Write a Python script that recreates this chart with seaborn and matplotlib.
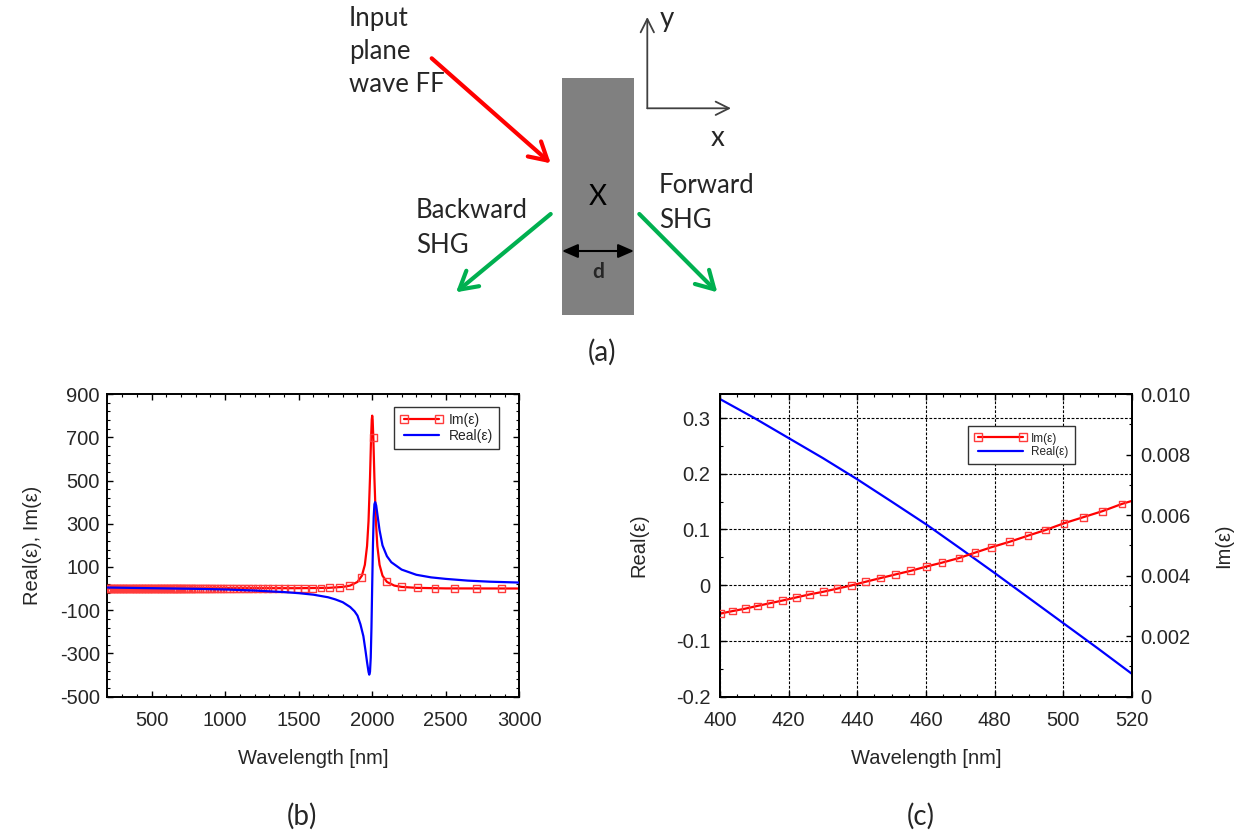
import matplotlib
matplotlib.use("Agg")
import matplotlib.pyplot as plt
import seaborn as sns
from matplotlib.lines import Line2D
from matplotlib.patches import Rectangle
from matplotlib.ticker import MultipleLocator, FixedLocator, FixedFormatter, AutoMinorLocator

# ---------------- data: panel (b) ----------------
b_im_wl = [200, 500, 1000, 1500, 1700, 1800, 1850, 1900, 1930, 1950, 1965, 1975, 1985, 1992, 1997,
           2000, 2003, 2008, 2015, 2025, 2035, 2050, 2070, 2100, 2150, 2200, 2300, 2500, 3000]
b_im_val = [1, 1, 2, 2, 3.5, 7.9, 14, 31, 60, 110, 197, 312, 512, 690, 782,
            800, 782, 690, 512, 312, 197, 110, 60, 31, 14, 8, 3.5, 1, 0.5]

b_mk_wl = [2878, 2710, 2561, 2427, 2307, 2198, 2099, 2007, 1925, 1848,
           1778, 1712, 1652, 1595, 1542, 1493, 1446, 1403, 1361, 1323,
           1286, 1252, 1219, 1188, 1158, 1130, 1103, 1078, 1053, 1030,
           1008, 986, 966, 946, 927, 909, 892, 875, 859, 844,
           829, 815, 801, 788, 775, 763, 751, 739, 728, 717,
           707, 697, 687, 678, 668, 659, 650, 640, 630, 620,
           610, 600, 590, 580, 570, 560, 550, 540, 530, 520,
           510, 500, 490, 480, 470, 460, 450, 440, 430, 420,
           410, 400, 390, 380, 370, 360, 350, 340, 330, 320,
           310, 300, 290, 280, 270, 260, 250, 240, 230, 220,
           210, 200]
b_mk_val = [0.4, 0.6, 1.0, 1.7, 3.4, 8, 32, 700, 53, 14,
            6.3, 3.8, 2.6, 1.9, 1.4, 1.1, 0.9, 0.7, 0.6, 0.5,
            0.5, 0.5, 0.5, 0.5, 0.5, 0.5, 0.5, 0.5, 0.5, 0.5,
            0.5, 0.5, 0.5, 0.5, 0.5, 0.5, 0.5, 0.5, 0.5, 0.5,
            0.5, 0.5, 0.5, 0.5, 0.5, 0.5, 0.5, 0.5, 0.5, 0.5,
            0.5, 0.5, 0.5, 0.5, 0.5, 0.5, 0.5, 0.5, 0.5, 0.5,
            0.5, 0.5, 0.5, 0.5, 0.5, 0.5, 0.5, 0.5, 0.5, 0.5,
            0.5, 0.5, 0.5, 0.5, 0.5, 0.5, 0.5, 0.5, 0.5, 0.5,
            0.5, 0.5, 0.5, 0.5, 0.5, 0.5, 0.5, 0.5, 0.5, 0.5,
            0.5, 0.5, 0.5, 0.5, 0.5, 0.5, 0.5, 0.5, 0.5, 0.5,
            0.5, 0.5]

b_re_wl = [200, 400, 600, 800, 1000, 1200, 1400, 1500, 1600, 1700, 1750, 1800, 1850, 1880, 1900,
           1920, 1940, 1955, 1965, 1975, 1980, 1985, 1990, 1995, 2000, 2005, 2010, 2015, 2020,
           2027, 2035, 2050, 2070, 2100, 2130, 2200, 2300, 2400, 2500, 2650, 2800, 3000]
b_re_val = [5, 3, 1, -1, -4, -9, -16, -21, -28, -40, -50, -63, -85, -105, -125,
            -165, -220, -290, -340, -385, -398, -385, -320, -180, 15, 200, 330, 390, 400,
            385, 345, 270, 200, 150, 122, 88, 64, 52, 45, 37, 32, 28]

b_xticks = [500, 1000, 1500, 2000, 2500, 3000]
b_yticks = [-500, -300, -100, 100, 300, 500, 700, 900]

# ---------------- data: panel (c) ----------------
c_re_wl = [400, 410, 420, 430, 440, 450, 460, 470, 480, 490, 500, 510, 520]
c_re_val = [0.334, 0.300, 0.264, 0.228, 0.190, 0.150, 0.1095, 0.066, 0.022, -0.023, -0.068, -0.113, -0.159]

c_im_wl = [400.2, 403.7, 407.4, 410.9, 414.6, 418.3, 422.2, 426.1, 430.2, 434.1,
           438.4, 442.5, 446.8, 451.1, 455.6, 460.1, 464.7, 469.6, 474.3, 479.1,
           484.4, 489.7, 494.9, 500.2, 505.8, 511.4, 517.1]
c_im_val = [0.00275, 0.00283, 0.00291, 0.00300, 0.00309, 0.00318, 0.00328, 0.00338, 0.00347, 0.00357,
            0.00368, 0.00380, 0.00392, 0.00404, 0.00416, 0.00430, 0.00443, 0.00458, 0.00476, 0.00494,
            0.00512, 0.00532, 0.00551, 0.00573, 0.00593, 0.00613, 0.00637]
c_im_line_wl = [400] + c_im_wl + [520]
c_im_line_val = [0.00273] + c_im_val + [0.00647]

c_xticks = [400, 420, 440, 460, 480, 500, 520]
c_yticks_left = [-0.2, -0.1, 0, 0.1, 0.2, 0.3]
c_ylabels_left = ["-0.2", "-0.1", "0", "0.1", "0.2", "0.3"]
c_yticks_right = [0, 0.002, 0.004, 0.006, 0.008, 0.010]
c_ylabels_right = ["0", "0.002", "0.004", "0.006", "0.008", "0.010"]

# ---------------- style ----------------
sns.set_theme(style="ticks")
plt.rcParams['font.family'] = ['Liberation Sans', 'DejaVu Sans']
plt.rcParams['axes.linewidth'] = 1.4
plt.rcParams['axes.edgecolor'] = 'black'
plt.rcParams['axes.unicode_minus'] = False

RED = '#ff0000'
BLUE = '#0000ff'
GREEN = '#00b050'
DIAG_FONT = ['Lato', 'DejaVu Sans']
DFS = 18.5

fig = plt.figure(figsize=(12.48, 8.32), dpi=100)
fig.patch.set_facecolor('white')

# ---------------- panel (a): diagram in pixel coordinates ----------------
dax = fig.add_axes([0, 0, 1, 1], zorder=0)
dax.set_xlim(0, 1248)
dax.set_ylim(832, 0)
dax.axis('off')

dax.add_patch(Rectangle((562, 78), 72, 237, facecolor='#808080', edgecolor='none'))
dax.text(598, 197, 'X', ha='center', va='center', fontsize=20, family=DIAG_FONT, color='black')
dax.annotate('', xy=(634, 251), xytext=(562, 251),
             arrowprops=dict(arrowstyle='<|-|>,head_length=0.8,head_width=0.35', color='black',
                             lw=1.5, shrinkA=0, shrinkB=0))
dax.text(598, 272, 'd', ha='center', va='center', fontsize=15, fontweight='bold', family=DIAG_FONT)

arrow_head = '->,head_length=1.05,head_width=0.6'
dax.annotate('', xy=(550.7, 163.3), xytext=(431.7, 58.3),
             arrowprops=dict(arrowstyle=arrow_head, color=RED, lw=3, shrinkA=0, shrinkB=0))
dax.annotate('', xy=(456, 292.3), xytext=(550.7, 214),
             arrowprops=dict(arrowstyle=arrow_head, color=GREEN, lw=3, shrinkA=0, shrinkB=0))
dax.annotate('', xy=(717.3, 292.3), xytext=(639.3, 214),
             arrowprops=dict(arrowstyle=arrow_head, color=GREEN, lw=3, shrinkA=0, shrinkB=0))

axis_head = '->,head_length=0.8,head_width=0.4'
dax.annotate('', xy=(647.3, 17), xytext=(647.3, 108.3),
             arrowprops=dict(arrowstyle=axis_head, color='#404040', lw=1.3, shrinkA=0, shrinkB=0))
dax.annotate('', xy=(731, 108.3), xytext=(647.3, 108.3),
             arrowprops=dict(arrowstyle=axis_head, color='#404040', lw=1.3, shrinkA=0, shrinkB=0))
dax.text(667, 19, 'y', ha='center', va='center', fontsize=20, family=DIAG_FONT)
dax.text(718, 138, 'x', ha='center', va='center', fontsize=20, family=DIAG_FONT)

for txt, yy in [('Input', 18.3), ('plane', 51.7), ('wave FF', 85)]:
    dax.text(349, yy, txt, ha='left', va='center', fontsize=DFS, family=DIAG_FONT)
for txt, yy in [('Backward', 210.7), ('SHG', 245.7)]:
    dax.text(416, yy, txt, ha='left', va='center', fontsize=DFS, family=DIAG_FONT)
for txt, yy in [('Forward', 185.7), ('SHG', 220)]:
    dax.text(659, yy, txt, ha='left', va='center', fontsize=DFS, family=DIAG_FONT)

dax.text(602, 352, '(a)', ha='center', va='center', fontsize=20, family=DIAG_FONT)
dax.text(302, 816, '(b)', ha='center', va='center', fontsize=20, family=DIAG_FONT)
dax.text(921, 816, '(c)', ha='center', va='center', fontsize=20, family=DIAG_FONT)

# ---------------- panel (b) ----------------
ax_b = fig.add_axes([0.0855, 0.1626, 0.3306, 0.3638], zorder=2)
sns.lineplot(x=b_im_wl, y=b_im_val, ax=ax_b, color=RED, lw=1.6, estimator=None, sort=False, zorder=2)
sns.scatterplot(x=b_mk_wl, y=b_mk_val, ax=ax_b, marker='s', s=24, facecolors='none',
                edgecolor='#ff3b3b', linewidth=1.0, zorder=3)
sns.lineplot(x=b_re_wl, y=b_re_val, ax=ax_b, color=BLUE, lw=1.6, estimator=None, sort=False, zorder=4)

ax_b.set_xlim(195, 3000)
ax_b.set_ylim(-500, 900)
ax_b.xaxis.set_major_locator(FixedLocator(b_xticks))
ax_b.xaxis.set_minor_locator(MultipleLocator(100))
ax_b.yaxis.set_major_locator(FixedLocator(b_yticks))
ax_b.yaxis.set_minor_locator(AutoMinorLocator(5))
ax_b.tick_params(which='both', direction='in', top=True, right=True, color='black')
ax_b.tick_params(which='major', length=4, width=1, labelsize=14.5)
ax_b.tick_params(which='minor', length=2, width=0.8)
ax_b.tick_params(axis='x', which='major', pad=10)
ax_b.tick_params(axis='y', which='major', pad=5)
ax_b.set_xlabel('Wavelength [nm]', fontsize=14.5, labelpad=14)
ax_b.set_ylabel('Real(ε), Im(ε)', fontsize=14.5, labelpad=13)
for sp in ax_b.spines.values():
    sp.set_visible(True)
    sp.set_linewidth(1.4)

h_im = Line2D([], [], color=RED, lw=1.6, marker='s', mfc='none', mec='#ff3b3b', ms=5.5, mew=1.0)
h_re = Line2D([], [], color=BLUE, lw=1.6)
leg_b = ax_b.legend([h_im, h_re], ['Im(ε)', 'Real(ε)'], loc='upper left',
                    bbox_to_anchor=(0.696, 0.957), borderaxespad=0, numpoints=2,
                    fontsize=10, handlelength=3.1, handletextpad=0.4, labelspacing=0.1,
                    borderpad=0.45, fancybox=False, framealpha=1, edgecolor='#333333')
leg_b.get_frame().set_linewidth(1.0)

# ---------------- panel (c) ----------------
ax_c = fig.add_axes([0.5769, 0.1626, 0.3301, 0.3638], zorder=2)
ax_c2 = ax_c.twinx()
sns.lineplot(x=c_re_wl, y=c_re_val, ax=ax_c, color=BLUE, lw=1.6, estimator=None, sort=False)
sns.lineplot(x=c_im_line_wl, y=c_im_line_val, ax=ax_c2, color=RED, lw=1.6, estimator=None, sort=False)
sns.scatterplot(x=c_im_wl, y=c_im_val, ax=ax_c2, marker='s', s=24, facecolors='none',
                edgecolor='#ff3b3b', linewidth=1.0, zorder=3)

ax_c.set_xlim(400, 520)
ax_c.set_ylim(-0.2, 0.343)
ax_c2.set_ylim(0, 0.010)
ax_c.xaxis.set_major_locator(FixedLocator(c_xticks))
ax_c.xaxis.set_minor_locator(MultipleLocator(5))
ax_c.yaxis.set_major_locator(FixedLocator(c_yticks_left))
ax_c.yaxis.set_major_formatter(FixedFormatter(c_ylabels_left))
ax_c.yaxis.set_minor_locator(AutoMinorLocator(2))
ax_c2.yaxis.set_major_locator(FixedLocator(c_yticks_right))
ax_c2.yaxis.set_major_formatter(FixedFormatter(c_ylabels_right))
ax_c2.yaxis.set_minor_locator(AutoMinorLocator(2))
ax_c.grid(True, which='major', color='black', ls=(0, (2.5, 1.5)), lw=0.8)
ax_c.tick_params(which='both', direction='in', top=True, color='black')
ax_c.tick_params(which='major', length=4, width=1, labelsize=14.5)
ax_c.tick_params(which='minor', length=2, width=0.8)
ax_c.tick_params(axis='x', which='major', pad=10)
ax_c.tick_params(axis='y', which='major', pad=7)
ax_c2.tick_params(which='both', direction='in', color='black')
ax_c2.tick_params(which='major', length=4, width=1, labelsize=14.5, pad=6)
ax_c2.tick_params(which='minor', length=2, width=0.8)
ax_c.set_xlabel('Wavelength [nm]', fontsize=14.5, labelpad=14)
ax_c.set_ylabel('Real(ε)', fontsize=14.5, labelpad=20)
ax_c2.set_ylabel('Im(ε)', fontsize=14.5, labelpad=17)
for a in (ax_c, ax_c2):
    for sp in a.spines.values():
        sp.set_visible(True)
        sp.set_linewidth(1.4)

h_im2 = Line2D([], [], color=RED, lw=1.6, marker='s', mfc='none', mec='#ff3b3b', ms=5.5, mew=1.0)
h_re2 = Line2D([], [], color=BLUE, lw=1.6)
leg_c = ax_c2.legend([h_im2, h_re2], ['Im(ε)', 'Real(ε)'], loc='upper left',
                     bbox_to_anchor=(0.602, 0.894), borderaxespad=0, numpoints=2,
                     fontsize=8.5, handlelength=4.4, handletextpad=0.4, labelspacing=0.1,
                     borderpad=0.55, fancybox=False, framealpha=1, edgecolor='#333333')
leg_c.get_frame().set_linewidth(1.0)

fig.savefig('out.png', dpi=100, facecolor='white')
